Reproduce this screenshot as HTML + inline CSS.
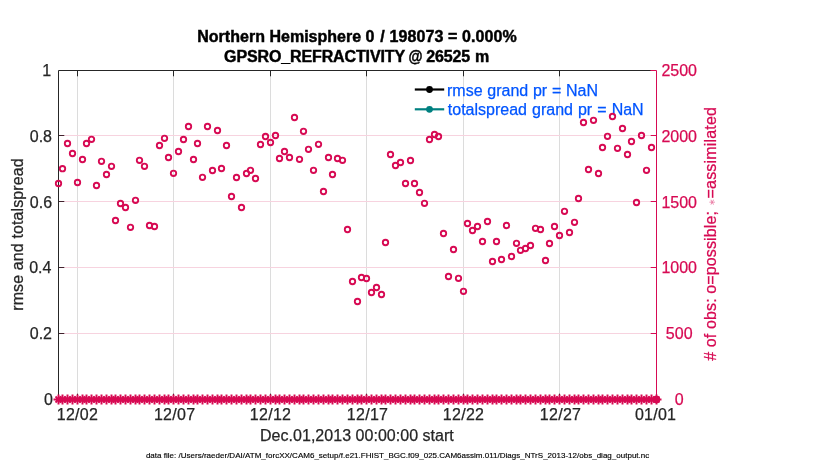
<!DOCTYPE html>
<html><head><meta charset="utf-8"><title>obs diag</title>
<style>
html,body{margin:0;padding:0;background:#fff;}
body{width:830px;height:470px;overflow:hidden;}
svg{display:block;}
text{font-family:"Liberation Sans",sans-serif;}
</style></head><body>
<svg width="830" height="470" viewBox="0 0 830 470">
<rect width="830" height="470" fill="#fff"/>

<g stroke="#dcdcdc" stroke-width="1">
<line x1="77.5" y1="71" x2="77.5" y2="399"/>
<line x1="173.5" y1="71" x2="173.5" y2="399"/>
<line x1="270.5" y1="71" x2="270.5" y2="399"/>
<line x1="366.5" y1="71" x2="366.5" y2="399"/>
<line x1="463.5" y1="71" x2="463.5" y2="399"/>
<line x1="559.5" y1="71" x2="559.5" y2="399"/>
</g>
<g stroke="#f7d3df" stroke-width="1">
<line x1="59" y1="135.5" x2="656" y2="135.5"/>
<line x1="59" y1="201.5" x2="656" y2="201.5"/>
<line x1="59" y1="267.5" x2="656" y2="267.5"/>
<line x1="59" y1="333.5" x2="656" y2="333.5"/>
</g>
<g stroke="#262626" stroke-width="1" fill="none">
<path d="M58.5 399.5V70.5H651"/>
<path d="M58.5 399.5H656.5"/>
<line x1="77.5" y1="70.5" x2="77.5" y2="76.3"/>
<line x1="77.5" y1="399.5" x2="77.5" y2="393.7"/>
<line x1="173.5" y1="70.5" x2="173.5" y2="76.3"/>
<line x1="173.5" y1="399.5" x2="173.5" y2="393.7"/>
<line x1="270.5" y1="70.5" x2="270.5" y2="76.3"/>
<line x1="270.5" y1="399.5" x2="270.5" y2="393.7"/>
<line x1="366.5" y1="70.5" x2="366.5" y2="76.3"/>
<line x1="366.5" y1="399.5" x2="366.5" y2="393.7"/>
<line x1="463.5" y1="70.5" x2="463.5" y2="76.3"/>
<line x1="463.5" y1="399.5" x2="463.5" y2="393.7"/>
<line x1="559.5" y1="70.5" x2="559.5" y2="76.3"/>
<line x1="559.5" y1="399.5" x2="559.5" y2="393.7"/>
<line x1="59" y1="135.5" x2="64.3" y2="135.5" stroke="#41222d"/>
<line x1="59" y1="201.5" x2="64.3" y2="201.5" stroke="#41222d"/>
<line x1="59" y1="267.5" x2="64.3" y2="267.5" stroke="#41222d"/>
<line x1="59" y1="333.5" x2="64.3" y2="333.5" stroke="#41222d"/>
</g>
<g stroke="#d70a53" stroke-width="1" fill="none">
<path d="M650.5 70.5H656.5V399.5"/>
<line x1="656.5" y1="135.5" x2="650.7" y2="135.5"/>
<line x1="656.5" y1="201.5" x2="650.7" y2="201.5"/>
<line x1="656.5" y1="267.5" x2="650.7" y2="267.5"/>
<line x1="656.5" y1="333.5" x2="650.7" y2="333.5"/>
</g>
<g stroke-width="2.2" fill="none"><line x1="414.8" y1="89.5" x2="444.2" y2="89.5" stroke="#000"/><line x1="414.8" y1="109.3" x2="444.2" y2="109.3" stroke="#008080"/></g>
<circle cx="429.5" cy="89.5" r="3.4" fill="#000"/><circle cx="429.5" cy="109.3" r="3.4" fill="#008080"/>
<g font-size="16" fill="#0055ff" stroke="#0055ff" stroke-width="0.25"><text x="447" y="96" word-spacing="0.3">rmse grand pr = NaN</text><text x="447.8" y="115" word-spacing="0.6">totalspread grand pr = NaN</text></g>
<g fill="none" stroke="#d70a53" stroke-width="1.85">
<circle cx="58.5" cy="183.5" r="2.72"/>
<circle cx="62.5" cy="168.7" r="2.72"/>
<circle cx="67.5" cy="143.5" r="2.72"/>
<circle cx="72.5" cy="153.5" r="2.72"/>
<circle cx="77.5" cy="182.5" r="2.72"/>
<circle cx="82.5" cy="159.5" r="2.72"/>
<circle cx="86.5" cy="143.5" r="2.72"/>
<circle cx="91.5" cy="139.3" r="2.72"/>
<circle cx="96.5" cy="185.5" r="2.72"/>
<circle cx="101.5" cy="161.3" r="2.72"/>
<circle cx="106.5" cy="174.5" r="2.72"/>
<circle cx="111.5" cy="166.3" r="2.72"/>
<circle cx="115.5" cy="220.5" r="2.72"/>
<circle cx="120.5" cy="203.5" r="2.72"/>
<circle cx="125.5" cy="207.5" r="2.72"/>
<circle cx="130.5" cy="227.3" r="2.72"/>
<circle cx="135.5" cy="200.3" r="2.72"/>
<circle cx="139.5" cy="160.3" r="2.72"/>
<circle cx="144.5" cy="166.3" r="2.72"/>
<circle cx="149.5" cy="225.5" r="2.72"/>
<circle cx="154.5" cy="226.5" r="2.72"/>
<circle cx="159.5" cy="145.5" r="2.72"/>
<circle cx="164.5" cy="138.3" r="2.72"/>
<circle cx="168.5" cy="157.5" r="2.72"/>
<circle cx="173.5" cy="173.3" r="2.72"/>
<circle cx="178.5" cy="151.5" r="2.72"/>
<circle cx="183.5" cy="139.5" r="2.72"/>
<circle cx="188.5" cy="126.5" r="2.72"/>
<circle cx="193.5" cy="159.5" r="2.72"/>
<circle cx="197.5" cy="143.5" r="2.72"/>
<circle cx="202.5" cy="177.3" r="2.72"/>
<circle cx="207.5" cy="126.5" r="2.72"/>
<circle cx="212.5" cy="170.5" r="2.72"/>
<circle cx="217.5" cy="130.5" r="2.72"/>
<circle cx="221.5" cy="168.5" r="2.72"/>
<circle cx="226.5" cy="145.5" r="2.72"/>
<circle cx="231.5" cy="196.5" r="2.72"/>
<circle cx="236.5" cy="177.5" r="2.72"/>
<circle cx="241.5" cy="207.5" r="2.72"/>
<circle cx="246.5" cy="173.5" r="2.72"/>
<circle cx="250.5" cy="170.3" r="2.72"/>
<circle cx="255.5" cy="178.5" r="2.72"/>
<circle cx="260.5" cy="144.5" r="2.72"/>
<circle cx="265.5" cy="136.5" r="2.72"/>
<circle cx="270.5" cy="142.5" r="2.72"/>
<circle cx="275.5" cy="135.5" r="2.72"/>
<circle cx="279.5" cy="158.5" r="2.72"/>
<circle cx="284.5" cy="151.5" r="2.72"/>
<circle cx="289.5" cy="157.5" r="2.72"/>
<circle cx="294.5" cy="117.5" r="2.72"/>
<circle cx="299.5" cy="159.3" r="2.72"/>
<circle cx="303.5" cy="131.3" r="2.72"/>
<circle cx="308.5" cy="149.3" r="2.72"/>
<circle cx="313.5" cy="170.3" r="2.72"/>
<circle cx="318.5" cy="144.3" r="2.72"/>
<circle cx="323.5" cy="191.5" r="2.72"/>
<circle cx="328.5" cy="157.5" r="2.72"/>
<circle cx="332.5" cy="174.5" r="2.72"/>
<circle cx="337.5" cy="158.5" r="2.72"/>
<circle cx="342.5" cy="160.3" r="2.72"/>
<circle cx="347.5" cy="229.5" r="2.72"/>
<circle cx="352.5" cy="281.5" r="2.72"/>
<circle cx="357.5" cy="301.5" r="2.72"/>
<circle cx="361.5" cy="277.5" r="2.72"/>
<circle cx="366.5" cy="278.5" r="2.72"/>
<circle cx="371.5" cy="292.5" r="2.72"/>
<circle cx="376.5" cy="287.5" r="2.72"/>
<circle cx="381.5" cy="294.5" r="2.72"/>
<circle cx="385.5" cy="242.5" r="2.72"/>
<circle cx="390.5" cy="154.5" r="2.72"/>
<circle cx="395.5" cy="165.5" r="2.72"/>
<circle cx="400.5" cy="162.5" r="2.72"/>
<circle cx="405.5" cy="183.5" r="2.72"/>
<circle cx="410.5" cy="160.5" r="2.72"/>
<circle cx="414.5" cy="183.5" r="2.72"/>
<circle cx="419.5" cy="192.5" r="2.72"/>
<circle cx="424.5" cy="203.3" r="2.72"/>
<circle cx="429.5" cy="139.5" r="2.72"/>
<circle cx="434.5" cy="134.5" r="2.72"/>
<circle cx="438.5" cy="136.5" r="2.72"/>
<circle cx="443.5" cy="233.5" r="2.72"/>
<circle cx="448.5" cy="276.5" r="2.72"/>
<circle cx="453.5" cy="249.5" r="2.72"/>
<circle cx="458.5" cy="278.3" r="2.72"/>
<circle cx="463.5" cy="291.3" r="2.72"/>
<circle cx="467.5" cy="223.5" r="2.72"/>
<circle cx="472.5" cy="230.5" r="2.72"/>
<circle cx="477.5" cy="226.5" r="2.72"/>
<circle cx="482.5" cy="241.5" r="2.72"/>
<circle cx="487.5" cy="221.5" r="2.72"/>
<circle cx="492.5" cy="261.5" r="2.72"/>
<circle cx="496.5" cy="241.5" r="2.72"/>
<circle cx="501.5" cy="259.5" r="2.72"/>
<circle cx="506.5" cy="225.5" r="2.72"/>
<circle cx="511.5" cy="256.5" r="2.72"/>
<circle cx="516.5" cy="243.3" r="2.72"/>
<circle cx="520.5" cy="250.3" r="2.72"/>
<circle cx="525.5" cy="248.5" r="2.72"/>
<circle cx="530.5" cy="245.5" r="2.72"/>
<circle cx="535.5" cy="228.3" r="2.72"/>
<circle cx="540.5" cy="229.5" r="2.72"/>
<circle cx="545.5" cy="260.5" r="2.72"/>
<circle cx="549.5" cy="243.5" r="2.72"/>
<circle cx="554.5" cy="226.5" r="2.72"/>
<circle cx="559.5" cy="235.5" r="2.72"/>
<circle cx="564.5" cy="211.3" r="2.72"/>
<circle cx="569.5" cy="232.5" r="2.72"/>
<circle cx="574.5" cy="222.3" r="2.72"/>
<circle cx="578.5" cy="198.5" r="2.72"/>
<circle cx="583.5" cy="122.5" r="2.72"/>
<circle cx="588.5" cy="169.5" r="2.72"/>
<circle cx="593.5" cy="120.3" r="2.72"/>
<circle cx="598.5" cy="173.5" r="2.72"/>
<circle cx="602.5" cy="147.5" r="2.72"/>
<circle cx="607.5" cy="136.3" r="2.72"/>
<circle cx="612.5" cy="116.5" r="2.72"/>
<circle cx="617.5" cy="148.3" r="2.72"/>
<circle cx="622.5" cy="128.5" r="2.72"/>
<circle cx="627.5" cy="154.5" r="2.72"/>
<circle cx="631.5" cy="141.5" r="2.72"/>
<circle cx="636.5" cy="202.5" r="2.72"/>
<circle cx="641.5" cy="135.5" r="2.72"/>
<circle cx="646.5" cy="170.3" r="2.72"/>
<circle cx="651.5" cy="147.5" r="2.72"/>
<circle cx="656.5" cy="399.5" r="2.72"/>
</g>
<defs><g id="as" stroke="#d70a53" fill="none"><path d="M-5.0 0H5.0M-3.00 -3.00L3.00 3.00M-3.00 3.00L3.00 -3.00" stroke-width="1.8"/><path d="M0 -5.0V5.0" stroke-width="2"/></g></defs>
<g>
<use href="#as" x="58.5" y="399.5"/>
<use href="#as" x="62.5" y="399.5"/>
<use href="#as" x="67.5" y="399.5"/>
<use href="#as" x="72.5" y="399.5"/>
<use href="#as" x="77.5" y="399.5"/>
<use href="#as" x="82.5" y="399.5"/>
<use href="#as" x="86.5" y="399.5"/>
<use href="#as" x="91.5" y="399.5"/>
<use href="#as" x="96.5" y="399.5"/>
<use href="#as" x="101.5" y="399.5"/>
<use href="#as" x="106.5" y="399.5"/>
<use href="#as" x="111.5" y="399.5"/>
<use href="#as" x="115.5" y="399.5"/>
<use href="#as" x="120.5" y="399.5"/>
<use href="#as" x="125.5" y="399.5"/>
<use href="#as" x="130.5" y="399.5"/>
<use href="#as" x="135.5" y="399.5"/>
<use href="#as" x="139.5" y="399.5"/>
<use href="#as" x="144.5" y="399.5"/>
<use href="#as" x="149.5" y="399.5"/>
<use href="#as" x="154.5" y="399.5"/>
<use href="#as" x="159.5" y="399.5"/>
<use href="#as" x="164.5" y="399.5"/>
<use href="#as" x="168.5" y="399.5"/>
<use href="#as" x="173.5" y="399.5"/>
<use href="#as" x="178.5" y="399.5"/>
<use href="#as" x="183.5" y="399.5"/>
<use href="#as" x="188.5" y="399.5"/>
<use href="#as" x="193.5" y="399.5"/>
<use href="#as" x="197.5" y="399.5"/>
<use href="#as" x="202.5" y="399.5"/>
<use href="#as" x="207.5" y="399.5"/>
<use href="#as" x="212.5" y="399.5"/>
<use href="#as" x="217.5" y="399.5"/>
<use href="#as" x="221.5" y="399.5"/>
<use href="#as" x="226.5" y="399.5"/>
<use href="#as" x="231.5" y="399.5"/>
<use href="#as" x="236.5" y="399.5"/>
<use href="#as" x="241.5" y="399.5"/>
<use href="#as" x="246.5" y="399.5"/>
<use href="#as" x="250.5" y="399.5"/>
<use href="#as" x="255.5" y="399.5"/>
<use href="#as" x="260.5" y="399.5"/>
<use href="#as" x="265.5" y="399.5"/>
<use href="#as" x="270.5" y="399.5"/>
<use href="#as" x="275.5" y="399.5"/>
<use href="#as" x="279.5" y="399.5"/>
<use href="#as" x="284.5" y="399.5"/>
<use href="#as" x="289.5" y="399.5"/>
<use href="#as" x="294.5" y="399.5"/>
<use href="#as" x="299.5" y="399.5"/>
<use href="#as" x="303.5" y="399.5"/>
<use href="#as" x="308.5" y="399.5"/>
<use href="#as" x="313.5" y="399.5"/>
<use href="#as" x="318.5" y="399.5"/>
<use href="#as" x="323.5" y="399.5"/>
<use href="#as" x="328.5" y="399.5"/>
<use href="#as" x="332.5" y="399.5"/>
<use href="#as" x="337.5" y="399.5"/>
<use href="#as" x="342.5" y="399.5"/>
<use href="#as" x="347.5" y="399.5"/>
<use href="#as" x="352.5" y="399.5"/>
<use href="#as" x="357.5" y="399.5"/>
<use href="#as" x="361.5" y="399.5"/>
<use href="#as" x="366.5" y="399.5"/>
<use href="#as" x="371.5" y="399.5"/>
<use href="#as" x="376.5" y="399.5"/>
<use href="#as" x="381.5" y="399.5"/>
<use href="#as" x="385.5" y="399.5"/>
<use href="#as" x="390.5" y="399.5"/>
<use href="#as" x="395.5" y="399.5"/>
<use href="#as" x="400.5" y="399.5"/>
<use href="#as" x="405.5" y="399.5"/>
<use href="#as" x="410.5" y="399.5"/>
<use href="#as" x="414.5" y="399.5"/>
<use href="#as" x="419.5" y="399.5"/>
<use href="#as" x="424.5" y="399.5"/>
<use href="#as" x="429.5" y="399.5"/>
<use href="#as" x="434.5" y="399.5"/>
<use href="#as" x="438.5" y="399.5"/>
<use href="#as" x="443.5" y="399.5"/>
<use href="#as" x="448.5" y="399.5"/>
<use href="#as" x="453.5" y="399.5"/>
<use href="#as" x="458.5" y="399.5"/>
<use href="#as" x="463.5" y="399.5"/>
<use href="#as" x="467.5" y="399.5"/>
<use href="#as" x="472.5" y="399.5"/>
<use href="#as" x="477.5" y="399.5"/>
<use href="#as" x="482.5" y="399.5"/>
<use href="#as" x="487.5" y="399.5"/>
<use href="#as" x="492.5" y="399.5"/>
<use href="#as" x="496.5" y="399.5"/>
<use href="#as" x="501.5" y="399.5"/>
<use href="#as" x="506.5" y="399.5"/>
<use href="#as" x="511.5" y="399.5"/>
<use href="#as" x="516.5" y="399.5"/>
<use href="#as" x="520.5" y="399.5"/>
<use href="#as" x="525.5" y="399.5"/>
<use href="#as" x="530.5" y="399.5"/>
<use href="#as" x="535.5" y="399.5"/>
<use href="#as" x="540.5" y="399.5"/>
<use href="#as" x="545.5" y="399.5"/>
<use href="#as" x="549.5" y="399.5"/>
<use href="#as" x="554.5" y="399.5"/>
<use href="#as" x="559.5" y="399.5"/>
<use href="#as" x="564.5" y="399.5"/>
<use href="#as" x="569.5" y="399.5"/>
<use href="#as" x="574.5" y="399.5"/>
<use href="#as" x="578.5" y="399.5"/>
<use href="#as" x="583.5" y="399.5"/>
<use href="#as" x="588.5" y="399.5"/>
<use href="#as" x="593.5" y="399.5"/>
<use href="#as" x="598.5" y="399.5"/>
<use href="#as" x="602.5" y="399.5"/>
<use href="#as" x="607.5" y="399.5"/>
<use href="#as" x="612.5" y="399.5"/>
<use href="#as" x="617.5" y="399.5"/>
<use href="#as" x="622.5" y="399.5"/>
<use href="#as" x="627.5" y="399.5"/>
<use href="#as" x="631.5" y="399.5"/>
<use href="#as" x="636.5" y="399.5"/>
<use href="#as" x="641.5" y="399.5"/>
<use href="#as" x="646.5" y="399.5"/>
<use href="#as" x="651.5" y="399.5"/>
<use href="#as" x="656.5" y="399.5"/>
</g>
<g font-size="16" font-weight="bold" fill="#000" stroke="#000" stroke-width="0.45"><text x="197.2" y="42" textLength="164" lengthAdjust="spacing">Northern Hemisphere</text><text x="365.4" y="42">0</text><text x="380.35" y="42" textLength="136.3" lengthAdjust="spacing">/ 198073 = 0.000%</text><text x="224.1" y="62" textLength="181" lengthAdjust="spacing">GPSRO_REFRACTIVITY</text><text x="408.6" y="62" textLength="14" lengthAdjust="spacingAndGlyphs">@</text><text x="426.2" y="62" textLength="44" lengthAdjust="spacing">26525</text><text x="475.1" y="62">m</text></g>
<g font-size="16" fill="#262626" text-anchor="end" stroke="#262626" stroke-width="0.25">
<text x="51.1" y="76">1</text>
<text x="52.0" y="142">0.8</text>
<text x="52.1" y="208">0.6</text>
<text x="51.4" y="273">0.4</text>
<text x="52.0" y="339">0.2</text>
<text x="53.0" y="405">0</text>
</g>
<g font-size="16" fill="#262626" text-anchor="middle" stroke="#262626" stroke-width="0.25">
<text x="77.30" y="420" textLength="41.1" lengthAdjust="spacing">12/02</text>
<text x="174.50" y="420" textLength="41.1" lengthAdjust="spacing">12/07</text>
<text x="270.40" y="420" textLength="41.1" lengthAdjust="spacing">12/12</text>
<text x="367.40" y="420" textLength="41.1" lengthAdjust="spacing">12/17</text>
<text x="463.40" y="420" textLength="41.1" lengthAdjust="spacing">12/22</text>
<text x="560.40" y="420" textLength="41.1" lengthAdjust="spacing">12/27</text>
<text x="655.45" y="420" textLength="41.1" lengthAdjust="spacing">01/01</text>
<text x="356.9" y="441" textLength="193.8" lengthAdjust="spacing">Dec.01,2013 00:00:00 start</text>
</g>
<text x="145.9" y="458" font-size="8" fill="#000" textLength="503.4" lengthAdjust="spacing" stroke="#000" stroke-width="0.15">data file: /Users/raeder/DAI/ATM_forcXX/CAM6_setup/f.e21.FHIST_BGC.f09_025.CAM6assim.011/Diags_NTrS_2013-12/obs_diag_output.nc</text>
<g font-size="16" fill="#d70a53" text-anchor="middle" stroke="#d70a53" stroke-width="0.25">
<text x="679.2" y="76">2500</text>
<text x="679.2" y="142">2000</text>
<text x="679.2" y="208">1500</text>
<text x="679.2" y="273">1000</text>
<text x="679.2" y="339">500</text>
<text x="679.2" y="405">0</text>
</g>
<text transform="translate(23.3 234.5) rotate(-90)" font-size="16" fill="#262626" text-anchor="middle" stroke="#262626" stroke-width="0.25" textLength="152.5" lengthAdjust="spacing">rmse and totalspread</text>
<g transform="translate(716.3 360.6) rotate(-90)" font-size="16" fill="#d70a53" stroke="#d70a53" stroke-width="0.25"><text x="-0.2" y="0" textLength="149.8" lengthAdjust="spacing"># of obs: o=possible;</text><text x="158.6" y="-1.5" font-size="9" text-anchor="middle" fill-opacity="0.55" stroke="none">∗</text><text x="162.2" y="0" textLength="91.3" lengthAdjust="spacing">=assimilated</text></g>
</svg></body></html>
